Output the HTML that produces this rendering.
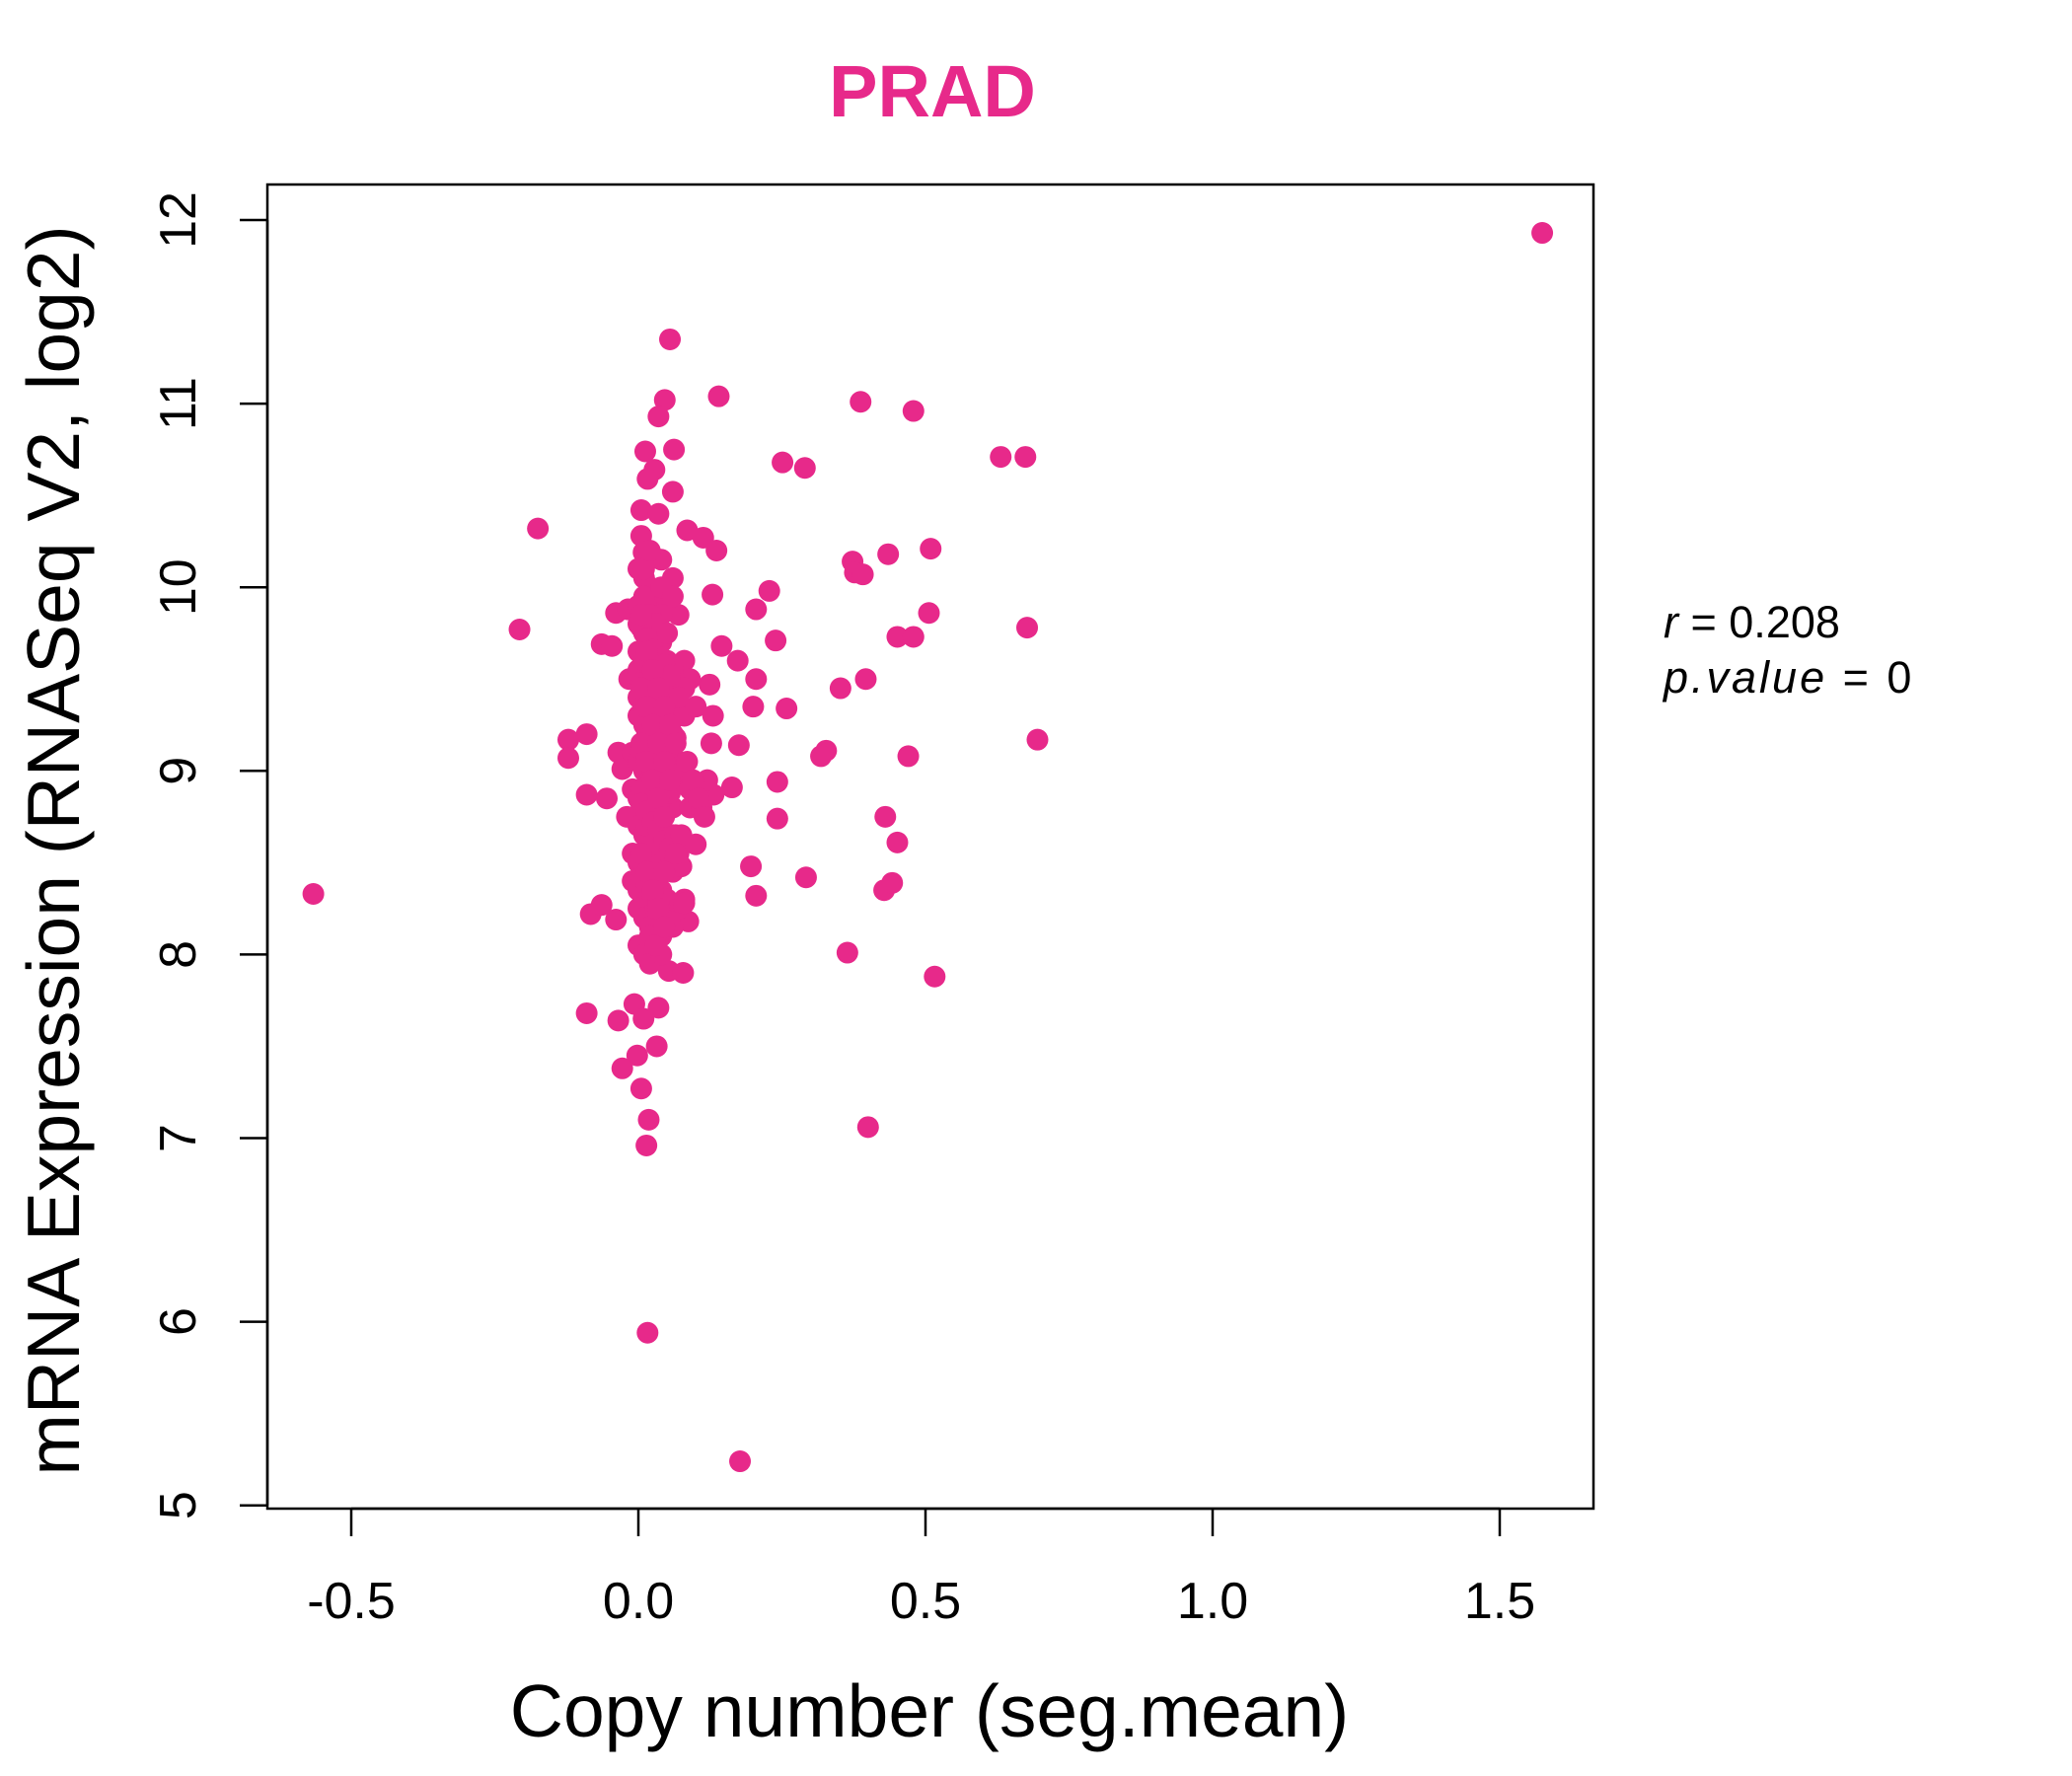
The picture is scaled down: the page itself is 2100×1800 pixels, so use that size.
<!DOCTYPE html>
<html><head><meta charset="utf-8">
<style>
html,body{margin:0;padding:0;background:#fff;}
svg{display:block;font-family:"Liberation Sans",sans-serif;}
</style></head>
<body>
<svg id="chart" width="2100" height="1800" viewBox="0 0 2100 1800" xmlns="http://www.w3.org/2000/svg">
<text x="945" y="118" text-anchor="middle" font-size="74" font-weight="bold" fill="#E7298A">PRAD</text>
<rect x="271" y="187" width="1344" height="1342" fill="none" stroke="#000" stroke-width="2.5"/>
<g id="xaxis"></g>
<g id="yaxis"></g>
<g id="points"></g>
<text x="942" y="1760" text-anchor="middle" font-size="75">Copy number (seg.mean)</text>
<text transform="translate(80,862) rotate(-90)" text-anchor="middle" font-size="75">mRNA Expression (RNASeq V2, log2)</text>
<text x="1686" y="646" font-size="45"><tspan font-style="italic">r</tspan> = 0.208</text>
<text x="1686" y="702" font-size="45" letter-spacing="3"><tspan font-style="italic">p.value</tspan> = 0</text>
</svg>
<script>
const xTicks=[-0.5,0.0,0.5,1.0,1.5];
const xTickLabels=["-0.5","0.0","0.5","1.0","1.5"];
const yTicks=[5,6,7,8,9,10,11,12];
const yTickLabels=["5","6","7","8","9","10","11","12"];
const xVals=[1.574,-0.566,-0.207,-0.175,0.055,0.140,0.046,0.387,0.479,0.035,0.062,0.012,0.251,0.290,0.631,0.674,
0.028,0.016,0.060,0.005,0.035,0.085,0.113,0.136,0.005,0.009,0.373,0.377,0.391,0.228,0.129,0.205,0.506,0.677,
0.451,0.479,0.239,0.145,0.173,0.396,0.352,0.205,0.200,0.258,0.124,0.695,0.327,0.318,0.470,0.242,0.175,0.127,
-0.122,-0.090,-0.122,-0.035,-0.028,-0.090,-0.055,0.163,0.131,0.430,0.242,0.451,0.196,0.292,0.205,0.428,0.442,
-0.083,-0.064,-0.039,0.087,0.364,0.516,0.053,0.078,-0.090,-0.035,-0.007,0.035,0.009,0.032,-0.002,-0.028,0.005,
0.400,0.018,0.014,0.016,0.177,-0.064,-0.046,-0.039,-0.018,-0.016,0.509,0.435,
0.00,0.01,0.02,0.03,0.04,0.05,0.06,0.07,0.00,0.01,0.02,0.03,0.04,0.05,0.06,0.08,
0.00,0.01,0.02,0.03,0.04,0.05,0.07,0.09,0.00,0.01,0.02,0.03,0.04,0.06,0.08,0.10,
-0.01,0.00,0.01,0.02,0.03,0.04,0.05,0.07,-0.01,0.00,0.01,0.02,0.03,0.05,0.06,0.08,
-0.02,0.00,0.01,0.02,0.03,0.04,0.06,0.09,-0.01,0.00,0.01,0.02,0.04,0.05,0.07,0.11,
-0.01,0.00,0.01,0.02,0.03,0.04,0.06,0.08,0.00,0.01,0.02,0.03,0.04,0.05,0.07,0.10,
0.00,0.01,0.02,0.03,0.04,0.06,0.08,0.12,0.00,0.01,0.02,0.03,0.05,0.07,0.09,0.13,
0.00,0.01,0.02,0.03,0.04,0.06,0.08,0.00,0.01,0.02,0.03,0.05,0.07,0.01,0.02,0.04,
0.06,0.02,0.03,0.05,0.01,0.03,0.04,0.02,0.015,0.025,0.035,0.045,0.005,0.015,0.025,0.035,
0.005,0.015,0.025,0.035,0.045,0.055,0.005,0.015,0.025,0.035,0.045,0.055,0.065,0.005,0.015,0.025,
0.035,0.045,0.055,0.005,0.015,0.025,0.035,0.045,0.055,0.065,0.075,0.005,0.015,0.025,0.035,0.045,
0.055,0.005,0.015,0.025,0.035,0.045,0.065,0.005,0.015,0.025,0.035,0.045,0.055,0.005,0.015,0.025,
0.035,0.045,0.005,0.015,0.025,0.035,0.045,0.055,0.065,0.085,0.095,0.105,0.115,0.075,0.065,0.045];
const yVals=[11.93,8.33,9.77,10.32,11.35,11.04,11.02,11.01,10.96,10.93,10.75,10.74,10.68,10.65,10.71,10.71,
10.64,10.59,10.52,10.42,10.40,10.31,10.27,10.20,10.28,10.19,10.14,10.08,10.07,9.98,9.96,9.88,9.86,9.78,
9.73,9.73,9.71,9.68,9.60,9.50,9.45,9.50,9.35,9.34,9.47,9.17,9.11,9.08,9.08,8.94,9.14,9.15,
9.17,9.20,9.07,9.10,9.01,8.87,8.85,8.91,8.87,8.75,8.74,8.61,8.48,8.42,8.32,8.35,8.39,
8.22,8.27,8.19,8.18,8.01,7.88,7.91,7.90,7.68,7.64,7.73,7.71,7.65,7.50,7.45,7.38,7.27,
7.06,7.10,6.96,5.94,5.24,9.69,9.68,9.86,9.88,9.50,10.21,10.18,
10.10,10.05,10.00,9.95,10.15,9.90,10.05,9.85,9.80,9.75,9.70,9.65,9.85,9.60,9.55,9.60,
9.55,9.50,9.45,9.40,9.35,9.45,9.30,9.50,9.30,9.25,9.20,9.15,9.25,9.20,9.30,9.35,
9.10,9.05,9.00,8.95,9.10,9.00,9.15,9.05,8.90,8.85,8.80,8.95,8.85,8.90,8.80,8.95,
8.75,8.70,8.65,8.75,8.60,8.70,8.65,8.80,8.55,8.50,8.45,8.55,8.50,8.60,8.55,8.80,
8.40,8.35,8.30,8.45,8.40,8.35,8.45,8.30,8.25,8.20,8.15,8.25,8.10,8.30,8.25,8.60,
9.65,9.75,9.60,9.80,9.70,9.55,9.45,8.95,9.40,9.35,9.20,9.50,9.10,9.00,8.90,9.30,
8.05,8.00,7.95,8.10,8.00,8.15,8.28,9.90,9.95,9.85,9.80,9.75,9.40,10.10,10.20,10.00,
9.95,8.10,8.05,8.20,9.60,8.70,8.65,8.50,9.20,9.00,8.80,9.10,8.90,8.70,8.60,9.40,
9.78,9.72,9.66,9.62,9.58,9.52,9.48,9.42,9.38,9.32,9.28,9.22,9.18,9.12,9.08,9.02,
8.98,8.92,8.88,8.82,8.78,8.72,8.68,8.62,8.58,8.52,8.48,8.42,8.38,8.32,8.28,8.22,
8.18,9.15,9.05,8.95,8.85,8.75,8.65,9.45,9.35,9.25,9.15,9.05,8.95,8.55,8.45,8.35,
8.25,8.15,9.85,9.65,9.55,9.45,9.35,9.25,9.15,9.05,8.95,8.85,8.75,8.65,8.55,8.45];
const X=v=>647+v*582;
const Y=v=>223+(12-v)*186.1;
const NS="http://www.w3.org/2000/svg";
const xa=document.getElementById('xaxis');
const ya=document.getElementById('yaxis');
const pts=document.getElementById('points');
function mk(tag,attrs){const e=document.createElementNS(NS,tag);for(const k in attrs)e.setAttribute(k,attrs[k]);return e;}
let l=mk('line',{x1:X(xTicks[0]),x2:X(xTicks[xTicks.length-1]),y1:1529,y2:1529,stroke:'#000','stroke-width':2.5});


xa.appendChild(l);
xTicks.forEach((t,i)=>{
 const tk=mk('line',{x1:X(t),x2:X(t),y1:1529,y2:1557,stroke:'#000','stroke-width':2.5});
 
 
 xa.appendChild(tk);
 const tx=mk('text',{x:X(t),y:1640,'text-anchor':'middle','font-size':52});
 
 
 tx.textContent=xTickLabels[i];xa.appendChild(tx);
});
let yl=mk('line',{x1:271,x2:271,y1:Y(yTicks[0]),y2:Y(yTicks[yTicks.length-1]),stroke:'#000','stroke-width':2.5});


ya.appendChild(yl);
yTicks.forEach((t,i)=>{
 const tk=mk('line',{x1:243,x2:271,y1:Y(t),y2:Y(t),stroke:'#000','stroke-width':2.5});
 
 
 ya.appendChild(tk);
 const tx=mk('text',{transform:`translate(198,${Y(t)}) rotate(-90)`,'text-anchor':'middle','font-size':52});
 
 
 tx.textContent=yTickLabels[i];ya.appendChild(tx);
});
xVals.forEach((v,i)=>{
 const c=mk('circle',{cx:X(v),cy:Y(yVals[i]),r:11,fill:'#E7298A'});
 
 
 pts.appendChild(c);
});
</script>
</body></html>
